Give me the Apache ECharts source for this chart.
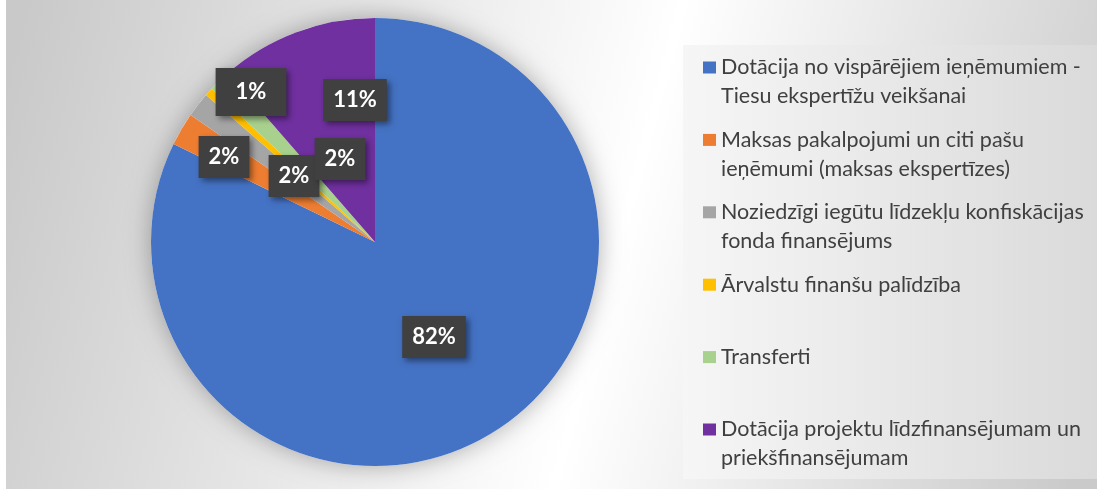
<!DOCTYPE html>
<html>
<head>
<meta charset="utf-8">
<title>Finansējuma avoti</title>
<script src="https://cdn.jsdelivr.net/npm/echarts@6/dist/echarts.min.js"></script>
<style>
  html, body { margin: 0; padding: 0; background: #fff; }
  #chart { width: 1097px; height: 489px; }
</style>
</head>
<body>
<div id="chart"></div>
<script>
// legend names (line breaks as shown in the legend)
var categories = [
  'Dotācija no vispārējiem ieņēmumiem -\nTiesu ekspertīžu veikšanai',
  'Maksas pakalpojumi un citi pašu\nieņēmumi (maksas ekspertīzes)',
  'Noziedzīgi iegūtu līdzekļu konfiskācijas\nfonda finansējums',
  'Ārvalstu finanšu palīdzība',
  'Transferti',
  'Dotācija projektu līdzfinansējumam un\npriekšfinansējumam'
];
// share of total, %
var shares = [82.2, 2.4, 1.8, 0.6, 1.6, 11.4];
var colors = ['#4472C4', '#ED7D31', '#A5A5A5', '#FFC000', '#A9D18E', '#7030A0'];

var chart = echarts.init(document.getElementById('chart'));

var total = shares.reduce(function (a, b) { return a + b; }, 0);

var pieData = categories.map(function (name, i) {
  var item = { name: name, value: shares[i], itemStyle: { color: colors[i] } };
  if (i === 3) {
    item.label = { padding: [12, 20] };
  }
  return item;
});

// where the data labels sit (Excel moved them by hand)
var labelSpots = [[434, 337], [224, 157], [294, 176], [251, 92], [340, 159], [355, 100]];

var option = {
  animation: false,
  backgroundColor: {
    type: 'linear', x: 0, y: 0.2, x2: 1, y2: 0.8,
    colorStops: [
      { offset: 0, color: '#c9c9c9' },
      { offset: 0.56, color: '#ffffff' },
      { offset: 1, color: '#cacaca' }
    ]
  },
  graphic: [
    {
      type: 'rect', z: -10, silent: true,
      shape: { x: 0, y: 0, width: 6, height: 489 },
      style: { fill: '#ffffff' }
    },
    {
      type: 'rect', z: -10, silent: true,
      shape: { x: 683, y: 45, width: 414, height: 434 },
      style: {
        fill: {
          type: 'linear', x: 0, y: 0, x2: 1, y2: 0,
          colorStops: [
            { offset: 0, color: '#f6f6f6' },
            { offset: 1, color: '#dadada' }
          ]
        }
      }
    }
  ],
  legend: {
    orient: 'vertical',
    left: 703,
    top: 24,
    padding: 0,
    itemWidth: 13,
    itemHeight: 12,
    itemGap: -14.6,
    icon: 'rect',
    selectedMode: false,
    data: categories,
    // three rows per entry so that the first text row sits level with the icon
    formatter: function (name) {
      return '\n' + (name.indexOf('\n') >= 0 ? name : name + '\n');
    },
    textStyle: {
      fontFamily: 'Lato',
      fontSize: 21.5,
      lineHeight: 29,
      color: '#404040'
    }
  },
  series: [
    {
      // soft glow behind the pie
      type: 'pie',
      name: 'shadow',
      silent: true,
      center: [375, 242],
      radius: 224,
      z: 1,
      label: { show: false },
      labelLine: { show: false },
      emphasis: { disabled: true },
      itemStyle: {
        color: '#ffffff',
        shadowBlur: 24,
        shadowColor: 'rgba(0,0,0,0.3)'
      },
      data: [{ name: 'total', value: total }]
    },
    {
      type: 'pie',
      name: 'Finansējums',
      center: [375, 242],
      radius: 224,
      startAngle: 90,
      clockwise: true,
      z: 2,
      emphasis: { disabled: true },
      itemStyle: { borderWidth: 0 },
      labelLine: { show: false },
      label: {
        show: true,
        position: 'inside',
        formatter: function (p) { return Math.round(p.value / total * 100) + '%'; },
        fontFamily: 'Lato',
        fontWeight: 'bold',
        fontSize: 22,
        lineHeight: 24,
        color: '#ffffff',
        backgroundColor: '#404040',
        padding: [9, 10],
        shadowColor: 'rgba(0,0,0,0.45)',
        shadowBlur: 6,
        shadowOffsetX: 3,
        shadowOffsetY: 3
      },
      labelLayout: function (params) {
        var p = labelSpots[params.dataIndex];
        return { x: p[0], y: p[1], align: 'center', verticalAlign: 'middle' };
      },
      data: pieData
    }
  ]
};

chart.setOption(option);
</script>
</body>
</html>
